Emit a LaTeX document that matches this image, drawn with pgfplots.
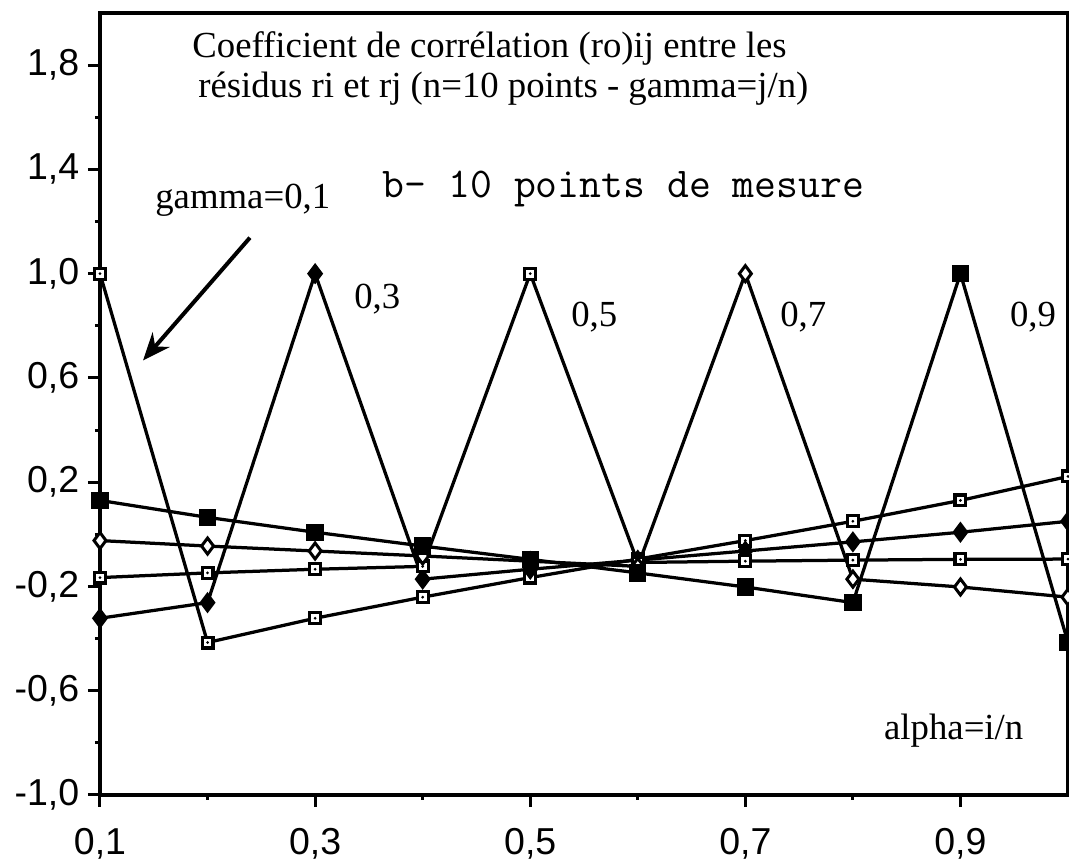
\documentclass[border=0pt]{standalone}
\usepackage{fontspec}
\setmainfont{Liberation Serif}
\newfontfamily\ticksf{Liberation Sans}
\usepackage{pgfplots}
\pgfplotsset{compat=1.18}
\usetikzlibrary{arrows.meta}

% open square with a dot in the middle
\pgfdeclareplotmark{sqdot}{%
  \pgfpathrectangle{\pgfpoint{-\pgfplotmarksize}{-\pgfplotmarksize}}{\pgfpoint{2\pgfplotmarksize}{2\pgfplotmarksize}}%
  \pgfusepathqfill
  \pgfsetfillcolor{white}%
  \pgfpathrectangle{\pgfpoint{-0.55\pgfplotmarksize}{-0.55\pgfplotmarksize}}{\pgfpoint{1.1\pgfplotmarksize}{1.1\pgfplotmarksize}}%
  \pgfusepathqfill
  \pgfsetfillcolor{black}%
  \pgfpathcircle{\pgfpointorigin}{0.22\pgfplotmarksize}%
  \pgfusepathqfill
}

\newcommand{\lbl}{\fontsize{14.7}{14.7}\selectfont}

\begin{document}
\begin{tikzpicture}
\begin{axis}[
    at={(0,0)}, anchor=south west,
    scale only axis,
    width=387.2pt, height=312.8pt,
    xmin=0.1, xmax=1.0, ymin=-1, ymax=2,
    clip=false,
    axis line style={line width=1.8pt},
    tick align=outside, tick pos=left,
    major tick length=4.8pt, minor tick length=2pt,
    every tick/.style={black, line width=1.2pt},
    xtick={0.1,0.3,0.5,0.7,0.9},
    xticklabels={{0,1},{0,3},{0,5},{0,7},{0,9}},
    minor xtick={0.2,0.4,0.6,0.8},
    ytick={-1,-0.6,-0.2,0.2,0.6,1,1.4,1.8},
    yticklabels={{-1,0},{-0,6},{-0,2},{0,2},{0,6},{1,0},{1,4},{1,8}},
    minor ytick={-0.8,-0.4,0,0.4,0.8,1.2,1.6},
    ticklabel style={font=\ticksf\fontsize{15}{15}\selectfont},
    xticklabel style={yshift=-5pt},
    every axis plot/.append style={black, line width=1.3pt},
]

% gamma = 0,1
\addplot[mark=sqdot, mark size=2.8pt] coordinates {
 (0.1,1.000) (0.2,-0.415) (0.3,-0.322) (0.4,-0.241) (0.5,-0.166)
 (0.6,-0.095) (0.7,-0.024) (0.8,0.050) (0.9,0.130) (1.0,0.222)};
% gamma = 0,3
\addplot[mark=diamond*, mark size=3.2pt, mark options={solid, fill=black}] coordinates {
 (0.1,-0.322) (0.2,-0.262) (0.3,1.000) (0.4,-0.172) (0.5,-0.134)
 (0.6,-0.099) (0.7,-0.064) (0.8,-0.029) (0.9,0.008) (1.0,0.050)};
% gamma = 0,5
\addplot[mark=sqdot, mark size=2.8pt] coordinates {
 (0.1,-0.166) (0.2,-0.148) (0.3,-0.134) (0.4,-0.123) (0.5,1.000)
 (0.6,-0.108) (0.7,-0.103) (0.8,-0.099) (0.9,-0.096) (1.0,-0.095)};
% gamma = 0,7
\addplot[mark=diamond*, mark size=3.2pt, mark options={solid, fill=white, line width=1.2pt}] coordinates {
 (0.1,-0.024) (0.2,-0.045) (0.3,-0.064) (0.4,-0.083) (0.5,-0.103)
 (0.6,-0.123) (0.7,1.000) (0.8,-0.172) (0.9,-0.202) (1.0,-0.241)};
% gamma = 0,9
\addplot[mark=square*, mark size=2.8pt, mark options={solid, fill=black}] coordinates {
 (0.1,0.130) (0.2,0.065) (0.3,0.008) (0.4,-0.045) (0.5,-0.096)
 (0.6,-0.148) (0.7,-0.202) (0.8,-0.262) (0.9,1.000) (1.0,-0.415)};

\node[anchor=base west, inner sep=0pt, font=\lbl] at (axis cs:0.1855,1.831) {Coefficient de corrélation (ro)ij entre les};
\node[anchor=base west, inner sep=0pt, font=\lbl] at (axis cs:0.191,1.674) {résidus ri et rj (n=10 points - gamma=j/n)};
\node[anchor=base west, inner sep=0pt, font=\lbl] at (axis cs:0.151,1.249) {gamma=0,1};
\node[anchor=base east, inner sep=0pt, font=\ttfamily\fontsize{17}{17}\selectfont] at (axis cs:0.811,1.291) {b- 10 points de mesure};
\node[anchor=base west, inner sep=0pt, font=\lbl] at (axis cs:0.336,0.866) {0,3};
\node[anchor=base west, inner sep=0pt, font=\lbl] at (axis cs:0.5377,0.797) {0,5};
\node[anchor=base west, inner sep=0pt, font=\lbl] at (axis cs:0.732,0.797) {0,7};
\node[anchor=base west, inner sep=0pt, font=\lbl] at (axis cs:0.9457,0.797) {0,9};
\node[anchor=base west, inner sep=0pt, font=\lbl] at (axis cs:0.8286,-0.789) {alpha=i/n};

\draw[line width=1.6pt, -{Stealth[length=11pt, width=9pt]}] (axis cs:0.2394,1.138) -- (axis cs:0.140,0.667);
\end{axis}
\pgfresetboundingbox
\useasboundingbox (-40pt,-28.8pt) rectangle (387.6pt,318pt);
\end{tikzpicture}
\end{document}
